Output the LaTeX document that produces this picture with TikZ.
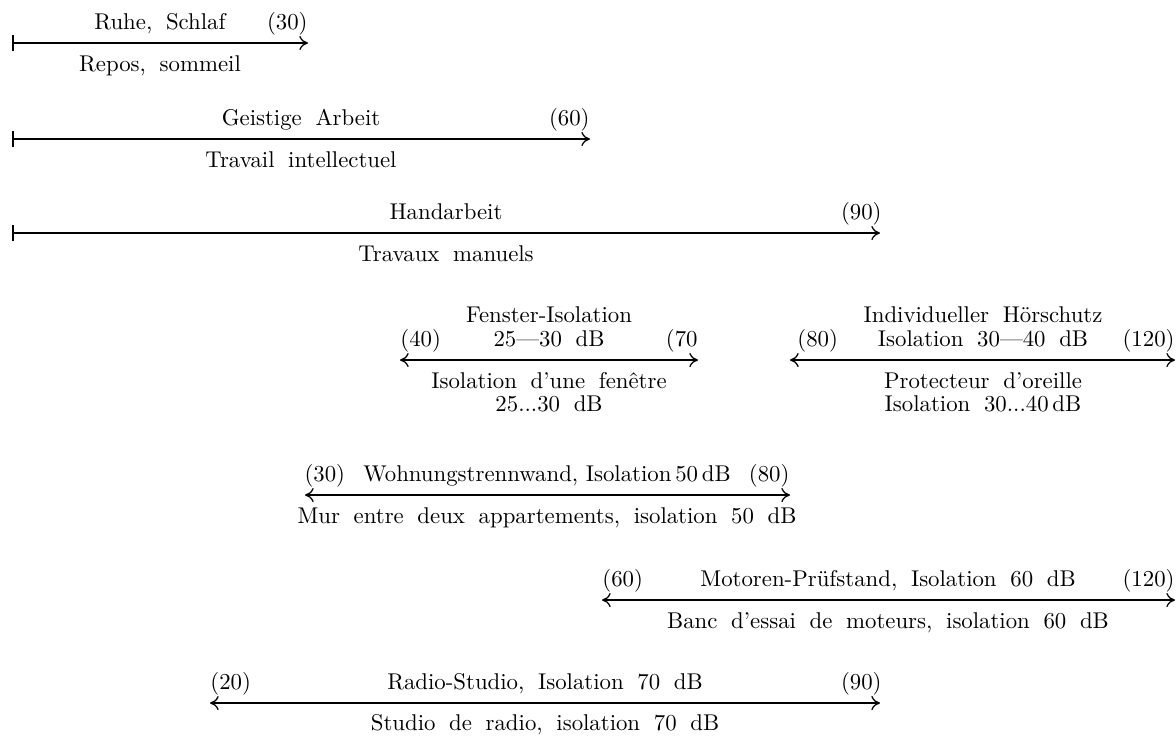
\documentclass[tikz,border=0pt]{standalone}
\usetikzlibrary{arrows.meta}
\newcommand\widewords{\spaceskip=0.6em plus 0.1em\relax}
\newcommand\lblfont{\fontsize{10}{12}\selectfont}
\begin{document}
\begin{tikzpicture}[x=0.4386pt,y=-0.4386pt,
  lbl/.style={inner sep=0pt, anchor=base, font=\lblfont, execute at begin node=\widewords},
  lblw/.style={lbl, anchor=base west},
  lble/.style={lbl, anchor=base east},
  dimline/.style={line width=0.55pt, {Bar[width=7.2pt,line width=1pt]}-{Computer Modern Rightarrow[length=3.8pt,width=6.2pt,line width=0.55pt]}},
  twoway/.style={line width=0.55pt, {Computer Modern Rightarrow[length=3.8pt,width=6.2pt,line width=0.55pt]}-{Computer Modern Rightarrow[length=3.8pt,width=6.2pt,line width=0.55pt]}}]
\useasboundingbox (0,0) rectangle (1176,735);

% Row 1
\coordinate (r1a) at (12,43); \coordinate (r1b) at (308,43);
\node[lbl]  (r1t) at (160,29) {Ruhe, Schlaf};
\node[lble] (r1n) at (308,29) {(30)};
\node[lbl]  (r1u) at (160,71) {Repos, sommeil};
\draw[dimline] (r1a) -- (r1b);

% Row 2
\coordinate (r2a) at (12,139); \coordinate (r2b) at (590,139);
\node[lbl]  (r2t) at (301,125) {Geistige Arbeit};
\node[lble] (r2n) at (590,125) {(60)};
\node[lbl]  (r2u) at (301,167) {Travail intellectuel};
\draw[dimline] (r2a) -- (r2b);

% Row 3
\coordinate (r3a) at (12,233); \coordinate (r3b) at (880,233);
\node[lbl]  (r3t) at (446,219) {Handarbeit};
\node[lble] (r3n) at (882,219) {(90)};
\node[lbl]  (r3u) at (446,261) {Travaux manuels};
\draw[dimline] (r3a) -- (r3b);

% Row 4 left: Fenster
\coordinate (f1) at (400,360); \coordinate (f2) at (698,360);
\node[lbl]  (ft1) at (549,322) {Fenster-Isolation};
\node[lblw] (fn1) at (400,346) {(40)};
\node[lbl]  (ft2) at (549,346) {25\textemdash30 dB};
\node[lble] (fn2) at (698,346) {(70};
\node[lbl]  (fu1) at (549,388) {Isolation d'une fenêtre};
\node[lbl]  (fu2) at (549,411) {25...30 dB};
\draw[twoway] (f1) -- (f2);

% Row 4 right: Hoerschutz
\coordinate (h1) at (790,360); \coordinate (h2) at (1175,360);
\node[lbl]  (ht1) at (983,322) {Individueller Hörschutz};
\node[lblw] (hn1) at (797,346) {(80)};
\node[lbl]  (ht2) at (983,346) {Isolation 30\textemdash40 dB};
\node[lble] (hn2) at (1175,346) {(120)};
\node[lbl]  (hu1) at (983,388) {Protecteur d'oreille};
\node[lbl]  (hu2) at (983,411) {Isolation 30...40\,dB};
\draw[twoway] (h1) -- (h2);

% Row 5: Wohnungstrennwand
\coordinate (w1) at (305,495); \coordinate (w2) at (790,495);
\node[lbl]  (wt) at (547,481) {\spaceskip=0pt\hbox to 212.7pt{(30)\hfil Wohnungstrennwand, Isolation\,50\,dB\hfil(80)}};
\node[lbl]  (wu) at (547,523) {Mur entre deux appartements, isolation 50 dB};
\draw[twoway] (w1) -- (w2);

% Row 6: Motoren
\coordinate (m1) at (602,600); \coordinate (m2) at (1175,600);
\node[lblw] (mn1) at (602,586) {(60)};
\node[lbl]  (mt) at (888,586) {Motoren-Prüfstand, Isolation 60 dB};
\node[lble] (mn2) at (1175,586) {(120)};
\node[lbl]  (mu) at (888,628) {Banc d'essai de moteurs, isolation 60 dB};
\draw[twoway] (m1) -- (m2);

% Row 7: Radio
\coordinate (s1) at (210,703); \coordinate (s2) at (880,703);
\node[lblw] (sn1) at (210,689) {(20)};
\node[lbl]  (st) at (545,689) {Radio-Studio, Isolation 70 dB};
\node[lble] (sn2) at (882,689) {(90)};
\node[lbl]  (su) at (545,730) {Studio de radio, isolation 70 dB};
\draw[twoway] (s1) -- (s2);
\end{tikzpicture}
\end{document}
